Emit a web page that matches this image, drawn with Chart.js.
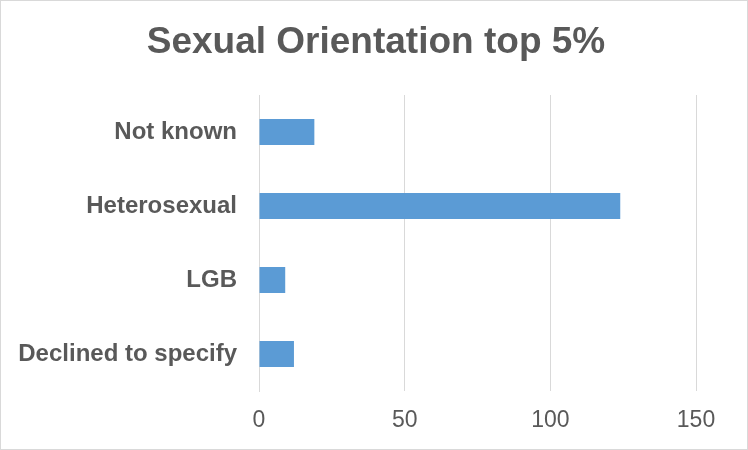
<!DOCTYPE html>
<html>
<head>
<meta charset="utf-8">
<script src="https://cdn.jsdelivr.net/npm/chart.js@4/dist/chart.umd.min.js"></script>
<style>
    html, body { margin: 0; padding: 0; background: #fff; }
    #wrapper {
        width: 748px;
        height: 450px;
        box-sizing: border-box;
        border: 1px solid #d9d9d9;
        background: #fff;
    }
    #wrapper canvas { display: block; }
</style>
</head>
<body>
<div id="wrapper">
    <canvas id="orientationChart" width="746" height="448"></canvas>
</div>
<script>
const categories = ['Not known', 'Heterosexual', 'LGB', 'Declined to specify'];
const counts = [19, 124, 9, 12];
const tickValues = [0, 50, 100, 150];

document.addEventListener('DOMContentLoaded', function() {
    const textColor = '#595959';
    const gridColor = '#d9d9d9';
    const fontFamily = '"Liberation Sans", Arial, sans-serif';

    const ctx = document.getElementById('orientationChart').getContext('2d');
    const orientationChart = new Chart(ctx, {
        type: 'bar',
        data: {
            labels: categories,
            datasets: [{
                label: 'Count',
                data: counts,
                backgroundColor: '#5b9bd5',
                borderWidth: 0,
                barPercentage: 0.351,
                categoryPercentage: 1
            }]
        },
        options: {
            indexAxis: 'y',
            responsive: false,
            animation: false,
            layout: {
                padding: { left: 4, right: 0, top: 0, bottom: 0 }
            },
            plugins: {
                legend: { display: false },
                tooltip: { enabled: false },
                title: {
                    display: true,
                    text: 'Sexual Orientation top 5%',
                    color: textColor,
                    font: { family: fontFamily, size: 37, weight: 'bold' },
                    padding: { top: 20, bottom: 29.6 }
                }
            },
            scales: {
                x: {
                    min: 0,
                    max: 150,
                    afterBuildTicks: function(scale) {
                        scale.ticks = tickValues.map(v => ({ value: v }));
                    },
                    afterFit: function(scale) {
                        scale.height = 58;
                    },
                    grid: {
                        color: gridColor,
                        lineWidth: 1,
                        drawTicks: false
                    },
                    border: { display: false },
                    ticks: {
                        color: textColor,
                        padding: 16,
                        maxRotation: 0,
                        font: { family: fontFamily, size: 23 }
                    }
                },
                y: {
                    afterFit: function(scale) {
                        scale.width = 254;
                    },
                    grid: { display: false, drawTicks: false },
                    border: { display: true, color: gridColor, width: 1 },
                    ticks: {
                        color: textColor,
                        padding: 22,
                        font: { family: fontFamily, size: 24, weight: 'bold' }
                    }
                },
                // empty axis on the right keeps the plot clear of the frame
                yRight: {
                    axis: 'y',
                    type: 'category',
                    position: 'right',
                    afterFit: function(scale) {
                        scale.width = 51;
                    },
                    grid: { display: false, drawTicks: false },
                    border: { display: false },
                    ticks: { display: false }
                }
            }
        }
    });
});
</script>
</body>
</html>
